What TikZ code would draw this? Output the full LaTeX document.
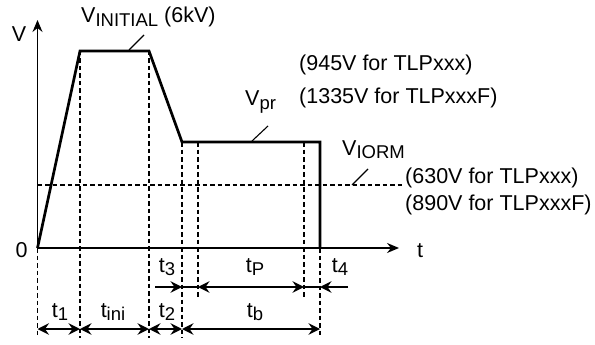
\documentclass[tikz,border=0pt]{standalone}
\usepackage{fontspec}
\setmainfont{Liberation Sans}
\usetikzlibrary{arrows.meta}
\newcommand{\sbs}[1]{\raisebox{-3.5pt}{\fontsize{18.5}{18.5}\selectfont #1}}
\begin{document}
\begin{tikzpicture}[x=1pt,y=-1pt,
  >={Stealth[length=11.5pt,width=11.5pt,inset=4pt]},
  txt/.style={font=\fontsize{21.5}{22}\selectfont, inner sep=0pt, anchor=base west},
  lbl/.style={font=\fontsize{21.5}{22}\selectfont, inner sep=0pt, anchor=base},
  wave/.style={line width=2.7pt, line join=miter},
  axis/.style={line width=1.6pt, -{Stealth[length=12pt,width=10pt,inset=4pt]}},
  guide/.style={line width=1.1pt, dash pattern=on 4.5pt off 3pt},
  dim/.style={line width=1.4pt},
  leader/.style={line width=1.1pt}]
\useasboundingbox (0,0) rectangle (595,345);
% key points
\coordinate (O) at (37.5,248);
\coordinate (A) at (80,51);
\coordinate (B) at (149,51);
\coordinate (C) at (182,142);
\coordinate (D) at (320,142);
\coordinate (E) at (320,248);
\coordinate (Vtop) at (37.5,20);
\coordinate (Tend) at (399,248);
\coordinate (Cp) at (198,142);
\coordinate (Dp) at (304,142);
% guide ends
\coordinate (gO) at (37.5,338);
\coordinate (gA) at (80,338);
\coordinate (gB) at (149,338);
\coordinate (gC) at (182,338);
\coordinate (gE) at (320,338);
\coordinate (gCp) at (198,297);
\coordinate (gDp) at (304,297);
\coordinate (hL) at (37.5,185);
\coordinate (hR) at (402,185);
% axes
\draw[axis] (O) -- (Vtop);
\draw[axis] (O) -- (Tend);
% guides
\draw[guide] (O) -- (gO);
\draw[guide] (A) -- (gA);
\draw[guide] (B) -- (gB);
\draw[guide] (C) -- (gC);
\draw[guide] (E) -- (gE);
\draw[guide] (Cp) -- (gCp);
\draw[guide] (Dp) -- (gDp);
\draw[guide] (hL) -- (hR);
% waveform
\draw[wave] (O) -- (A) -- (B) -- (C) -- (D) -- (E);
% dimension row 1
\coordinate (r1a) at (155,287);
\coordinate (r1c) at (182,287);
\coordinate (r1d) at (198,287);
\coordinate (r1e) at (304,287);
\coordinate (r1f) at (320,287);
\coordinate (r1g) at (348,287);
\draw[dim,->] (r1a) -- (r1c);
\draw[dim] (r1c) -- (r1d);
\draw[dim,<->] (r1d) -- (r1e);
\draw[dim] (r1e) -- (r1f);
\draw[dim,->] (r1g) -- (r1f);
% dimension row 2
\coordinate (r2a) at (37.5,329);
\coordinate (r2b) at (80,329);
\coordinate (r2c) at (149,329);
\coordinate (r2d) at (182,329);
\coordinate (r2e) at (320,329);
\draw[dim,<->] (r2a) -- (r2b);
\draw[dim,<->] (r2b) -- (r2c);
\draw[dim,<->] (r2c) -- (r2d);
\draw[dim,<->] (r2d) -- (r2e);
% leaders
\coordinate (l1a) at (129,50);
\coordinate (l1b) at (144,35);
\coordinate (l2a) at (252,141);
\coordinate (l2b) at (268,126);
\coordinate (l3a) at (352,185);
\coordinate (l3b) at (368,169);
\draw[leader] (l1a) -- (l1b);
\draw[leader] (l2a) -- (l2b);
\draw[leader] (l3a) -- (l3b);
% texts
\node[txt] (vini) at (81,23) {V\sbs{INITIAL} (6kV)};
\node[txt] (n945) at (299,71) {(945V for TLPxxx)};
\node[txt] (n1335) at (299,103) {(1335V for TLPxxxF)};
\node[txt] (vpr) at (245,106) {V\sbs{pr}};
\node[txt] (viorm) at (342,155) {V\sbs{IORM}};
\node[txt] (n630) at (405,183) {(630V for TLPxxx)};
\node[txt] (n890) at (405,210) {(890V for TLPxxxF)};
\node[lbl] (vlab) at (19,42) {V};
\node[lbl] (zero) at (21.5,257) {0};
\node[lbl] (tlab) at (420,257) {t};
\node[lbl] (t1) at (60,317) {t\sbs{1}};
\node[lbl] (tini) at (113,317) {t\sbs{ini}};
\node[lbl] (t2) at (167,317) {t\sbs{2}};
\node[lbl] (tb) at (255,317) {t\sbs{b}};
\node[lbl] (t3) at (167,272) {t\sbs{3}};
\node[lbl] (tP) at (255,272) {t\sbs{P}};
\node[lbl] (t4) at (340,272) {t\sbs{4}};
\end{tikzpicture}
\end{document}
